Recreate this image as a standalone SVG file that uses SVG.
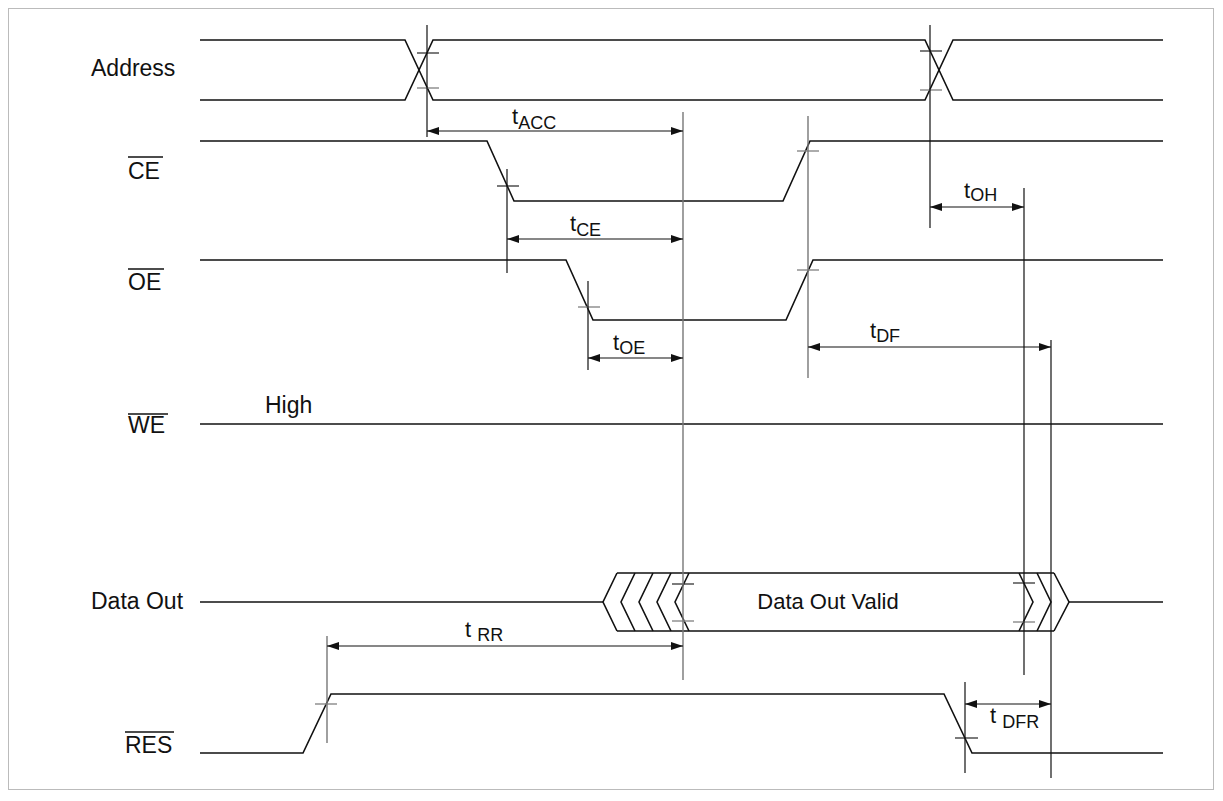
<svg xmlns="http://www.w3.org/2000/svg" width="1223" height="801" viewBox="0 0 1223 801">
<style>
.sig{fill:none;stroke:#111;stroke-width:1.6}
.v{stroke:#111;stroke-width:1.2}
.vg{stroke:#777;stroke-width:1.4}
.tk{stroke:#222;stroke-width:1.2}
.tg{stroke:#888;stroke-width:1.4}
.dim{stroke:#111;stroke-width:1.2;marker-start:url(#ah);marker-end:url(#ah)}
.lbl{font-family:"Liberation Sans",Arial,sans-serif;font-size:23px;fill:#111}
.t{font-family:"Liberation Sans",Arial,sans-serif;font-size:22px;fill:#111}
.s{font-size:18px}
.ov{stroke:#111;stroke-width:1.3}
</style>
<defs>
<marker id="ah" viewBox="0 0 12 8" refX="12" refY="4" markerWidth="12" markerHeight="8" markerUnits="userSpaceOnUse" orient="auto-start-reverse">
<path d="M0,0 L12,4 L0,8 z" fill="#111"/>
</marker>
</defs>
<rect x="8.5" y="8.5" width="1205" height="781" fill="#fff" stroke="#bbb" stroke-width="1"/>

<g id="labels">
<text class="lbl" x="91" y="76">Address</text>
<text class="lbl" x="128" y="179">CE</text><line class="ov" x1="128" y1="157" x2="163" y2="157"/>
<text class="lbl" x="128" y="290">OE</text><line class="ov" x1="128" y1="269" x2="164" y2="269"/>
<text class="lbl" x="128" y="433">WE</text><line class="ov" x1="128" y1="414" x2="168" y2="414"/>
<text class="lbl" x="91" y="609">Data Out</text>
<text class="lbl" x="125" y="753">RES</text><line class="ov" x1="125" y1="732" x2="174" y2="732"/>
</g>

<g id="address">
<path class="sig" d="M200,40 H405 L433,100 H925 L953,40 H1163"/>
<path class="sig" d="M200,100 H405 L433,40 H925 L953,100 H1163"/>
<line class="tk" x1="417" y1="53" x2="439" y2="53"/>
<line class="tg" x1="417" y1="88" x2="439" y2="88"/>
<line class="tk" x1="920" y1="51" x2="942" y2="51"/>
<line class="tg" x1="920" y1="90" x2="942" y2="90"/>
</g>

<g id="ce">
<path class="sig" d="M200,141 H487 L514,201 H783 L810,141 H1163"/>
<line class="tk" x1="497" y1="186" x2="519" y2="186"/>
<line class="tg" x1="797" y1="151" x2="819" y2="151"/>
</g>

<g id="oe">
<path class="sig" d="M200,260 H566 L593,320 H786 L813,260 H1163"/>
<line class="tg" x1="578" y1="307" x2="600" y2="307"/>
<line class="tg" x1="797" y1="270" x2="819" y2="270"/>
</g>

<g id="we">
<line class="sig" x1="200" y1="424" x2="1163" y2="424"/>
<text class="lbl" x="265" y="413">High</text>
</g>

<g id="dataout">
<path class="sig" d="M200,602 H603"/>
<path class="sig" d="M617,573 L603,602 L617,631"/>
<path class="sig" d="M635,573 L621,602 L635,631"/>
<path class="sig" d="M653,573 L639,602 L653,631"/>
<path class="sig" d="M671,573 L657,602 L671,631"/>
<path class="sig" d="M689,573 L675,602 L689,631"/>
<path class="sig" d="M617,573 H1054 M617,631 H1054"/>
<path class="sig" d="M1019,573 L1033,602 L1019,631"/>
<path class="sig" d="M1037,573 L1051,602 L1037,631"/>
<path class="sig" d="M1054,573 L1069,602 L1054,631"/>
<path class="sig" d="M1069,602 H1163"/>
<line class="tk" x1="672" y1="584" x2="694" y2="584"/>
<line class="tg" x1="672" y1="621" x2="694" y2="621"/>
<line class="tk" x1="1013" y1="583" x2="1035" y2="583"/>
<line class="tg" x1="1013" y1="622" x2="1035" y2="622"/>
<text class="lbl" x="828" y="609" text-anchor="middle" style="font-size:22px">Data Out Valid</text>
</g>

<g id="res">
<path class="sig" d="M200,753 H303 L331,694 H944 L972,753 H1163"/>
<line class="tg" x1="315" y1="704" x2="337" y2="704"/>
<line class="tk" x1="955" y1="738" x2="978" y2="738"/>
</g>

<g id="connectors">
<line class="v" x1="427" y1="25" x2="427" y2="137"/>
<line class="v" x1="930" y1="25" x2="930" y2="228"/>
<line class="vg" x1="683" y1="112" x2="683" y2="680"/>
<line class="v" x1="507" y1="169" x2="507" y2="273"/>
<line class="vg" x1="808" y1="116" x2="808" y2="378"/>
<line class="v" x1="588" y1="281" x2="588" y2="370"/>
<line class="v" x1="1024" y1="188" x2="1024" y2="675"/>
<line class="v" x1="1051" y1="340" x2="1051" y2="778"/>
<line class="vg" x1="327" y1="636" x2="327" y2="743"/>
<line class="v" x1="965" y1="682" x2="965" y2="773"/>

<line class="dim" x1="427" y1="131" x2="683" y2="131"/>
<line class="dim" x1="507" y1="239" x2="683" y2="239"/>
<line class="dim" x1="588" y1="358" x2="683" y2="358"/>
<line class="dim" x1="930" y1="207" x2="1024" y2="207"/>
<line class="dim" x1="808" y1="347" x2="1051" y2="347"/>
<line class="dim" x1="327" y1="646" x2="683" y2="646"/>
<line class="dim" x1="965" y1="704" x2="1051" y2="704"/>
</g>

<g id="timing-labels">
<text class="t" x="512" y="124">t<tspan class="s" dy="5">ACC</tspan></text>
<text class="t" x="570" y="231">t<tspan class="s" dy="5">CE</tspan></text>
<text class="t" x="613" y="350">t<tspan class="s" dy="4">OE</tspan></text>
<text class="t" x="964" y="198">t<tspan class="s" dy="3">OH</tspan></text>
<text class="t" x="870" y="338">t<tspan class="s" dy="4">DF</tspan></text>
<text class="t" x="465" y="637">t <tspan class="s" dy="4">RR</tspan></text>
<text class="t" x="990" y="723">t <tspan class="s" dy="5">DFR</tspan></text>
</g>
</svg>
